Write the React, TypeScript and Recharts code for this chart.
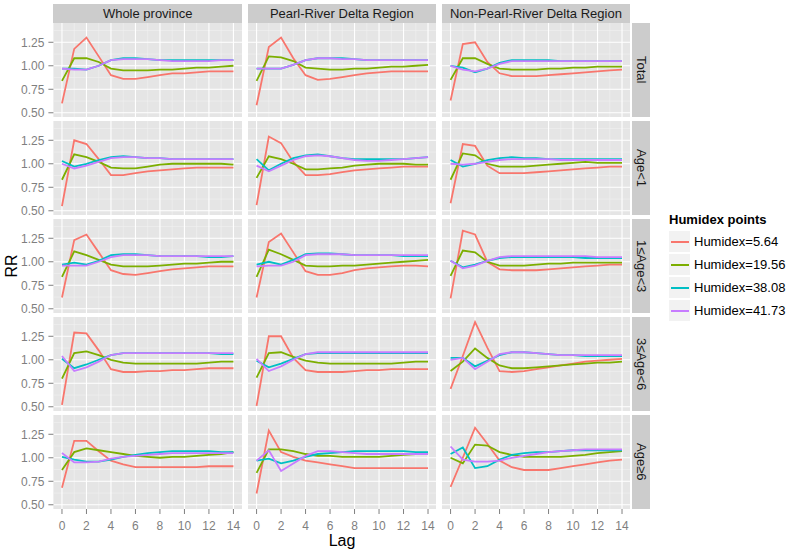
import React from 'react';
import { LineChart, Line, XAxis, YAxis, CartesianGrid } from 'recharts';

const LAGS = [0, 1, 2, 3, 4, 5, 6, 7, 8, 9, 10, 11, 12, 13, 14];
const X_TICKS = [0, 2, 4, 6, 8, 10, 12, 14];
const X_MINOR = [1, 3, 5, 7, 9, 11, 13];
const Y_TICKS = [0.5, 0.75, 1.0, 1.25];
const Y_MINOR = [0.625, 0.875, 1.125, 1.375];
const REGIONS = ['Whole province', 'Pearl-River Delta Region', 'Non-Pearl-River Delta Region'];
const GROUPS = ['Total', 'Age<1', '1≤Age<3', '3≤Age<6', 'Age≥6'];
const SERIES = ['Humidex=5.64', 'Humidex=19.56', 'Humidex=38.08', 'Humidex=41.73'];
const COLORS = ['#F8766D', '#7CAE00', '#00BFC4', '#C77CFF'];

// Total
const WP_TOTAL_1 = [0.60, 1.18, 1.30, 1.10, 0.90, 0.86, 0.86, 0.88, 0.90, 0.92, 0.92, 0.93, 0.94, 0.94, 0.94];
const WP_TOTAL_2 = [0.84, 1.08, 1.08, 1.04, 0.97, 0.95, 0.95, 0.95, 0.96, 0.96, 0.97, 0.98, 0.98, 0.99, 1.00];
const WP_TOTAL_3 = [0.97, 0.97, 0.96, 1.00, 1.06, 1.08, 1.08, 1.07, 1.06, 1.06, 1.06, 1.06, 1.06, 1.06, 1.06];
const WP_TOTAL_4 = [0.97, 0.96, 0.96, 1.00, 1.06, 1.07, 1.07, 1.07, 1.06, 1.05, 1.05, 1.05, 1.05, 1.06, 1.06];
const PRD_TOTAL_1 = [0.58, 1.20, 1.30, 1.08, 0.90, 0.85, 0.86, 0.88, 0.90, 0.92, 0.93, 0.94, 0.94, 0.94, 0.94];
const PRD_TOTAL_2 = [0.84, 1.10, 1.09, 1.05, 0.98, 0.97, 0.96, 0.96, 0.97, 0.97, 0.98, 0.99, 0.99, 1.00, 1.01];
const PRD_TOTAL_3 = [0.97, 0.97, 0.97, 1.01, 1.06, 1.08, 1.08, 1.08, 1.07, 1.06, 1.06, 1.06, 1.06, 1.06, 1.06];
const PRD_TOTAL_4 = [0.97, 0.97, 0.97, 1.01, 1.06, 1.08, 1.08, 1.07, 1.07, 1.06, 1.06, 1.06, 1.06, 1.06, 1.06];
const NPRD_TOTAL_1 = [0.63, 1.23, 1.25, 1.04, 0.92, 0.89, 0.89, 0.89, 0.90, 0.91, 0.92, 0.93, 0.94, 0.95, 0.96];
const NPRD_TOTAL_2 = [0.85, 1.08, 1.08, 1.02, 0.97, 0.96, 0.96, 0.96, 0.97, 0.97, 0.98, 0.98, 0.99, 0.99, 0.99];
const NPRD_TOTAL_3 = [1.00, 0.98, 0.93, 0.97, 1.03, 1.06, 1.06, 1.06, 1.06, 1.05, 1.05, 1.05, 1.05, 1.05, 1.05];
const NPRD_TOTAL_4 = [1.00, 0.96, 0.94, 0.97, 1.02, 1.05, 1.05, 1.05, 1.05, 1.05, 1.05, 1.05, 1.05, 1.05, 1.05];

// Age<1
const WP_A0_1 = [0.55, 1.25, 1.21, 1.05, 0.88, 0.88, 0.90, 0.92, 0.93, 0.94, 0.95, 0.96, 0.96, 0.96, 0.96];
const WP_A0_2 = [0.83, 1.10, 1.07, 1.02, 0.96, 0.95, 0.95, 0.97, 0.99, 1.00, 1.00, 1.00, 1.00, 1.00, 0.99];
const WP_A0_3 = [1.03, 0.97, 1.00, 1.04, 1.07, 1.08, 1.07, 1.06, 1.06, 1.05, 1.05, 1.05, 1.05, 1.05, 1.05];
const WP_A0_4 = [1.00, 0.95, 0.98, 1.02, 1.06, 1.07, 1.07, 1.06, 1.06, 1.05, 1.05, 1.05, 1.05, 1.05, 1.05];
const PRD_A0_1 = [0.56, 1.29, 1.22, 1.02, 0.88, 0.88, 0.89, 0.91, 0.93, 0.94, 0.95, 0.96, 0.97, 0.97, 0.97];
const PRD_A0_2 = [0.85, 1.08, 1.05, 1.00, 0.94, 0.94, 0.95, 0.96, 0.98, 0.99, 1.00, 1.00, 1.00, 0.99, 0.99];
const PRD_A0_3 = [1.05, 0.93, 1.00, 1.06, 1.09, 1.10, 1.08, 1.06, 1.05, 1.05, 1.05, 1.05, 1.05, 1.06, 1.07];
const PRD_A0_4 = [0.98, 0.92, 0.98, 1.04, 1.08, 1.09, 1.08, 1.06, 1.04, 1.03, 1.03, 1.04, 1.05, 1.06, 1.07];
const NPRD_A0_1 = [0.58, 1.21, 1.19, 0.98, 0.90, 0.90, 0.90, 0.91, 0.92, 0.93, 0.94, 0.95, 0.96, 0.97, 0.97];
const NPRD_A0_2 = [0.83, 1.11, 1.09, 1.00, 0.97, 0.97, 0.97, 0.98, 0.99, 1.00, 1.01, 1.02, 1.01, 1.01, 1.01];
const NPRD_A0_3 = [1.04, 0.97, 1.00, 1.04, 1.06, 1.07, 1.06, 1.06, 1.05, 1.05, 1.05, 1.05, 1.05, 1.05, 1.05];
const NPRD_A0_4 = [1.00, 0.99, 1.00, 1.02, 1.04, 1.05, 1.05, 1.05, 1.05, 1.04, 1.04, 1.04, 1.04, 1.04, 1.04];

// 1<=Age<3
const WP_A1_1 = [0.62, 1.23, 1.29, 1.10, 0.91, 0.87, 0.86, 0.88, 0.90, 0.92, 0.93, 0.94, 0.95, 0.95, 0.95];
const WP_A1_2 = [0.84, 1.11, 1.07, 1.02, 0.97, 0.95, 0.95, 0.95, 0.96, 0.97, 0.98, 0.98, 0.99, 1.00, 1.00];
const WP_A1_3 = [0.97, 0.99, 0.97, 1.01, 1.07, 1.08, 1.08, 1.07, 1.06, 1.06, 1.06, 1.06, 1.05, 1.05, 1.06];
const WP_A1_4 = [0.96, 0.96, 0.96, 1.00, 1.05, 1.07, 1.07, 1.07, 1.06, 1.06, 1.06, 1.06, 1.06, 1.06, 1.06];
const PRD_A1_1 = [0.62, 1.21, 1.30, 1.10, 0.90, 0.86, 0.86, 0.88, 0.91, 0.93, 0.94, 0.95, 0.96, 0.96, 0.95];
const PRD_A1_2 = [0.84, 1.13, 1.08, 1.02, 0.96, 0.95, 0.95, 0.96, 0.96, 0.97, 0.98, 0.99, 1.00, 1.01, 1.02];
const PRD_A1_3 = [0.97, 1.00, 0.97, 1.02, 1.08, 1.09, 1.09, 1.08, 1.07, 1.07, 1.07, 1.07, 1.06, 1.06, 1.06];
const PRD_A1_4 = [0.95, 0.96, 0.96, 1.00, 1.07, 1.08, 1.08, 1.08, 1.07, 1.07, 1.07, 1.07, 1.07, 1.07, 1.07];
const NPRD_A1_1 = [0.61, 1.33, 1.29, 1.00, 0.92, 0.91, 0.91, 0.91, 0.92, 0.93, 0.94, 0.95, 0.96, 0.97, 0.97];
const NPRD_A1_2 = [0.85, 1.12, 1.10, 1.00, 0.96, 0.96, 0.96, 0.97, 0.98, 0.98, 0.99, 0.99, 0.99, 0.99, 0.99];
const NPRD_A1_3 = [1.01, 0.94, 0.97, 1.01, 1.04, 1.05, 1.05, 1.05, 1.05, 1.05, 1.05, 1.04, 1.04, 1.04, 1.04];
const NPRD_A1_4 = [1.01, 0.93, 0.96, 1.01, 1.05, 1.06, 1.06, 1.06, 1.06, 1.06, 1.06, 1.06, 1.05, 1.05, 1.05];

// 3<=Age<6
const WP_A3_1 = [0.52, 1.29, 1.28, 1.10, 0.90, 0.87, 0.87, 0.88, 0.88, 0.89, 0.89, 0.90, 0.91, 0.91, 0.91];
const WP_A3_2 = [0.80, 1.07, 1.09, 1.05, 1.00, 0.97, 0.96, 0.96, 0.96, 0.96, 0.96, 0.96, 0.97, 0.98, 0.98];
const WP_A3_3 = [1.01, 0.91, 0.95, 1.00, 1.05, 1.07, 1.07, 1.07, 1.07, 1.07, 1.07, 1.07, 1.07, 1.06, 1.06];
const WP_A3_4 = [1.04, 0.88, 0.92, 0.98, 1.05, 1.07, 1.07, 1.07, 1.07, 1.07, 1.07, 1.07, 1.07, 1.07, 1.07];
const PRD_A3_1 = [0.51, 1.25, 1.25, 1.02, 0.89, 0.87, 0.87, 0.87, 0.88, 0.89, 0.89, 0.90, 0.90, 0.90, 0.90];
const PRD_A3_2 = [0.81, 1.07, 1.08, 1.03, 0.99, 0.97, 0.96, 0.96, 0.96, 0.96, 0.96, 0.96, 0.97, 0.98, 0.98];
const PRD_A3_3 = [0.99, 0.92, 0.96, 1.01, 1.06, 1.07, 1.07, 1.07, 1.07, 1.07, 1.07, 1.07, 1.07, 1.07, 1.07];
const PRD_A3_4 = [1.01, 0.88, 0.93, 1.00, 1.06, 1.08, 1.08, 1.08, 1.08, 1.08, 1.08, 1.08, 1.08, 1.08, 1.08];
const NPRD_A3_1 = [0.69, 1.04, 1.40, 1.13, 0.88, 0.87, 0.88, 0.90, 0.92, 0.94, 0.96, 0.98, 0.99, 1.00, 1.01];
const NPRD_A3_2 = [0.88, 0.98, 1.12, 1.02, 0.94, 0.91, 0.91, 0.92, 0.93, 0.94, 0.95, 0.96, 0.97, 0.97, 0.98];
const NPRD_A3_3 = [1.02, 1.02, 0.93, 0.99, 1.05, 1.08, 1.08, 1.07, 1.06, 1.05, 1.05, 1.04, 1.04, 1.04, 1.04];
const NPRD_A3_4 = [1.00, 1.02, 0.90, 0.98, 1.06, 1.08, 1.08, 1.07, 1.06, 1.05, 1.05, 1.05, 1.05, 1.05, 1.05];

// Age>=6
const WP_A6_1 = [0.68, 1.18, 1.18, 1.07, 0.97, 0.93, 0.90, 0.90, 0.90, 0.90, 0.90, 0.90, 0.91, 0.91, 0.91];
const WP_A6_2 = [0.87, 1.06, 1.10, 1.08, 1.06, 1.04, 1.02, 1.01, 1.00, 1.01, 1.01, 1.02, 1.03, 1.04, 1.06];
const WP_A6_3 = [1.01, 0.98, 0.96, 0.96, 0.98, 1.01, 1.03, 1.05, 1.06, 1.07, 1.07, 1.07, 1.07, 1.06, 1.06];
const WP_A6_4 = [1.05, 0.95, 0.95, 0.96, 0.99, 1.01, 1.02, 1.03, 1.04, 1.05, 1.05, 1.05, 1.05, 1.05, 1.05];
const PRD_A6_1 = [0.62, 1.29, 1.06, 1.01, 0.97, 0.95, 0.93, 0.91, 0.89, 0.89, 0.89, 0.89, 0.89, 0.89, 0.89];
const PRD_A6_2 = [0.84, 1.09, 1.09, 1.07, 1.04, 1.02, 1.02, 1.01, 1.01, 1.01, 1.01, 1.02, 1.03, 1.04, 1.05];
const PRD_A6_3 = [0.97, 0.99, 0.94, 0.97, 1.01, 1.04, 1.05, 1.06, 1.07, 1.07, 1.07, 1.07, 1.07, 1.06, 1.06];
const PRD_A6_4 = [0.97, 1.08, 0.86, 0.94, 1.02, 1.07, 1.07, 1.06, 1.05, 1.04, 1.04, 1.04, 1.04, 1.04, 1.04];
const NPRD_A6_1 = [0.69, 1.00, 1.32, 1.15, 0.97, 0.90, 0.87, 0.87, 0.87, 0.89, 0.91, 0.93, 0.95, 0.97, 0.98];
const NPRD_A6_2 = [1.00, 0.94, 1.14, 1.13, 1.06, 1.03, 1.01, 1.01, 1.01, 1.01, 1.02, 1.03, 1.05, 1.06, 1.07];
const NPRD_A6_3 = [1.04, 1.11, 0.89, 0.91, 0.98, 1.03, 1.05, 1.06, 1.06, 1.07, 1.08, 1.08, 1.08, 1.08, 1.08];
const NPRD_A6_4 = [1.12, 0.98, 0.96, 0.96, 0.97, 1.00, 1.02, 1.04, 1.06, 1.07, 1.08, 1.09, 1.09, 1.09, 1.09];

// panels[row][col] = [series1, series2, series3, series4]
const PANELS = [
  [[WP_TOTAL_1, WP_TOTAL_2, WP_TOTAL_3, WP_TOTAL_4], [PRD_TOTAL_1, PRD_TOTAL_2, PRD_TOTAL_3, PRD_TOTAL_4], [NPRD_TOTAL_1, NPRD_TOTAL_2, NPRD_TOTAL_3, NPRD_TOTAL_4]],
  [[WP_A0_1, WP_A0_2, WP_A0_3, WP_A0_4], [PRD_A0_1, PRD_A0_2, PRD_A0_3, PRD_A0_4], [NPRD_A0_1, NPRD_A0_2, NPRD_A0_3, NPRD_A0_4]],
  [[WP_A1_1, WP_A1_2, WP_A1_3, WP_A1_4], [PRD_A1_1, PRD_A1_2, PRD_A1_3, PRD_A1_4], [NPRD_A1_1, NPRD_A1_2, NPRD_A1_3, NPRD_A1_4]],
  [[WP_A3_1, WP_A3_2, WP_A3_3, WP_A3_4], [PRD_A3_1, PRD_A3_2, PRD_A3_3, PRD_A3_4], [NPRD_A3_1, NPRD_A3_2, NPRD_A3_3, NPRD_A3_4]],
  [[WP_A6_1, WP_A6_2, WP_A6_3, WP_A6_4], [PRD_A6_1, PRD_A6_2, PRD_A6_3, PRD_A6_4], [NPRD_A6_1, NPRD_A6_2, NPRD_A6_3, NPRD_A6_4]],
];

// layout
const COL_X = [53.4, 247.5, 441.6];
const PW = 188.6;
const ROW_Y = [23, 121, 219, 317, 415];
const PH = 94;
const Y_AXIS_W = 53.4;
const X_AXIS_H = 30;
const PAD = 8; // extra room so edge tick labels are not clipped
const FONT = '"Liberation Sans", Arial, sans-serif';
const AXIS_GREY = '#7F7F7F';

function Panel({ row, col }: { row: number; col: number }) {
  const series = PANELS[row][col];
  const data = LAGS.map((lag, i) => ({
    lag,
    s0: series[0][i],
    s1: series[1][i],
    s2: series[2][i],
    s3: series[3][i],
  }));
  const isLeft = col === 0;
  const isBottom = row === GROUPS.length - 1;
  const width = PW + (isLeft ? Y_AXIS_W : 0);
  const padTop = isLeft ? PAD : 0;
  const padBottom = isLeft && !isBottom ? PAD : 0;
  const height = PH + (isBottom ? X_AXIS_H : 0) + padTop + padBottom;
  const left = isLeft ? COL_X[0] - Y_AXIS_W : COL_X[col];
  return (
    <div style={{ position: 'absolute', left, top: ROW_Y[row] - padTop, width, height }}>
      <LineChart
        width={width}
        height={height}
        data={data}
        margin={{ top: padTop, right: 0, bottom: padBottom, left: 0 }}
      >
        <CartesianGrid
          fill="#E5E5E5"
          stroke="#F2F2F2"
          strokeWidth={0.6}
          horizontalValues={Y_MINOR}
          verticalValues={X_MINOR}
        />
        <CartesianGrid
          stroke="#FFFFFF"
          strokeWidth={1.1}
          horizontalValues={Y_TICKS}
          verticalValues={X_TICKS}
        />
        <XAxis
          dataKey="lag"
          type="number"
          domain={[-0.7, 14.7]}
          ticks={X_TICKS}
          allowDataOverflow
          hide={!isBottom}
          height={X_AXIS_H}
          axisLine={false}
          tickLine={{ stroke: AXIS_GREY }}
          tickSize={5}
          tickMargin={7}
          tick={{ fill: AXIS_GREY, fontSize: 12, fontFamily: FONT }}
          interval={0}
        />
        <YAxis
          type="number"
          domain={[0.455, 1.455]}
          ticks={Y_TICKS}
          allowDataOverflow
          hide={!isLeft}
          width={Y_AXIS_W}
          axisLine={false}
          tickLine={{ stroke: AXIS_GREY }}
          tickSize={5}
          tickMargin={4}
          tick={{ fill: AXIS_GREY, fontSize: 12, fontFamily: FONT }}
          tickFormatter={(v: number) => v.toFixed(2)}
          interval={0}
        />
        {SERIES.map((name, i) => (
          <Line
            key={name}
            name={name}
            dataKey={'s' + i}
            type="linear"
            stroke={COLORS[i]}
            strokeWidth={1.8}
            dot={false}
            isAnimationActive={false}
          />
        ))}
      </LineChart>
    </div>
  );
}

export default function App() {
  return (
    <div
      style={{
        position: 'absolute',
        left: 0,
        top: 0,
        width: 787,
        height: 553,
        background: '#FFFFFF',
        fontFamily: FONT,
        overflow: 'hidden',
      }}
    >
      {/* top strips */}
      {REGIONS.map((r, c) => (
        <div
          key={r}
          style={{
            position: 'absolute',
            left: COL_X[c],
            top: 4,
            width: PW,
            height: 19,
            background: '#CCCCCC',
            color: '#1A1A1A',
            fontSize: 13,
            lineHeight: '19px',
            textAlign: 'center',
          }}
        >
          {r}
        </div>
      ))}
      {/* right strips */}
      {GROUPS.map((g, r) => (
        <div
          key={g}
          style={{
            position: 'absolute',
            left: 632,
            top: ROW_Y[r],
            width: 18,
            height: PH,
            background: '#CCCCCC',
            color: '#1A1A1A',
            fontSize: 13,
            display: 'flex',
            alignItems: 'center',
            justifyContent: 'center',
          }}
        >
          <span style={{ writingMode: 'vertical-rl', whiteSpace: 'nowrap' }}>{g}</span>
        </div>
      ))}
      {/* panels */}
      {GROUPS.map((g, r) =>
        REGIONS.map((reg, c) => <Panel key={g + reg} row={r} col={c} />)
      )}
      {/* axis titles */}
      <div
        style={{
          position: 'absolute',
          left: 12 - 20,
          top: 266 - 10,
          width: 40,
          height: 20,
          fontSize: 16,
          lineHeight: '20px',
          textAlign: 'center',
          transform: 'rotate(-90deg)',
          color: '#000',
        }}
      >
        RR
      </div>
      <div
        style={{
          position: 'absolute',
          left: 342 - 40,
          top: 531,
          width: 80,
          height: 20,
          fontSize: 16,
          lineHeight: '20px',
          textAlign: 'center',
          color: '#000',
        }}
      >
        Lag
      </div>
      {/* legend */}
      <div style={{ position: 'absolute', left: 669, top: 210 }}>
        <div style={{ fontSize: 13, fontWeight: 'bold', color: '#000', height: 20, lineHeight: '20px' }}>
          Humidex points
        </div>
        {SERIES.map((s, i) => (
          <div key={s} style={{ display: 'flex', alignItems: 'center', height: 23 }}>
            <div
              style={{
                width: 21,
                height: 21,
                background: '#F2F2F2',
                display: 'flex',
                alignItems: 'center',
                justifyContent: 'center',
              }}
            >
              <div style={{ width: 18, height: 2, background: COLORS[i] }} />
            </div>
            <span style={{ fontSize: 13, color: '#000', marginLeft: 4, whiteSpace: 'nowrap' }}>{s}</span>
          </div>
        ))}
      </div>
    </div>
  );
}
